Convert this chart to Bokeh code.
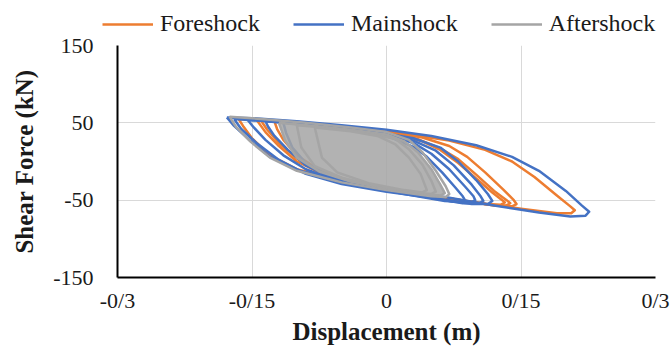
from bokeh.plotting import figure
from bokeh.layouts import column
from bokeh.models import FixedTicker, Legend, LegendItem, PrintfTickFormatter
from bokeh.embed import file_html
from bokeh.resources import INLINE

# Axis ticks and labels
x_ticks = [-0.3, -0.15, 0.0, 0.15, 0.3]
x_tick_labels = ["-0/3", "-0/15", "0", "0/15", "0/3"]
y_ticks = [-150, -50, 50, 150]

series_names = ["Foreshock", "Mainshock", "Aftershock"]
series_colors = ["#ED7D31", "#4472C4", "#A5A5A5"]

# Foreshock hysteresis loops: displacement (m) / shear force (kN)
fore_x = [
    [-0.165, -0.13, -0.08, -0.03, 0.02, 0.07, 0.11, 0.14, 0.165, 0.19, 0.205, 0.21, 0.206, 0.19, 0.15, 0.10, 0.05, 0.0, -0.05, -0.10, -0.13, -0.15, -0.16, -0.165],
    [-0.145, -0.10, -0.05, 0.0, 0.04, 0.07, 0.09, 0.11, 0.13, 0.142, 0.145, 0.14, 0.12, 0.07, 0.02, -0.03, -0.07, -0.10, -0.12, -0.135, -0.145],
    [-0.14, -0.09, -0.04, 0.0, 0.035, 0.06, 0.08, 0.10, 0.12, 0.134, 0.138, 0.133, 0.115, 0.065, 0.015, -0.035, -0.075, -0.10, -0.12, -0.133, -0.14],
    [-0.125, -0.08, -0.03, 0.01, 0.04, 0.06, 0.08, 0.10, 0.118, 0.128, 0.132, 0.127, 0.11, 0.06, 0.01, -0.04, -0.075, -0.10, -0.115, -0.122, -0.125],
]
fore_y = [
    [55, 53, 48, 43, 36, 27, 15, 0, -20, -44, -58, -63, -67, -67, -61, -53, -44, -35, -25, -10, 8, 30, 46, 55],
    [54, 50, 45, 39, 31, 20, 6, -14, -36, -50, -55, -58, -57, -48, -39, -29, -17, 0, 20, 38, 54],
    [53, 49, 44, 38, 29, 17, 3, -17, -38, -50, -54, -57, -56, -47, -38, -27, -14, 4, 24, 41, 53],
    [52, 48, 42, 35, 26, 15, -2, -22, -40, -49, -53, -56, -55, -46, -36, -25, -11, 8, 28, 42, 52],
]

# Mainshock hysteresis loops
main_x = [
    [-0.178, -0.15, -0.10, -0.05, 0.0, 0.05, 0.10, 0.14, 0.17, 0.20, 0.218, 0.226, 0.222, 0.205, 0.17, 0.12, 0.07, 0.02, -0.04, -0.097, -0.13, -0.153, -0.17, -0.178],
    [-0.17, -0.13, -0.08, -0.02, 0.03, 0.06, 0.08, 0.10, 0.113, 0.118, 0.113, 0.095, 0.05, 0.0, -0.05, -0.09, -0.12, -0.145, -0.162, -0.17],
    [-0.155, -0.11, -0.06, -0.01, 0.03, 0.055, 0.075, 0.095, 0.105, 0.108, 0.103, 0.085, 0.04, -0.01, -0.055, -0.09, -0.115, -0.135, -0.148, -0.155],
    [-0.135, -0.09, -0.04, 0.0, 0.03, 0.05, 0.07, 0.088, 0.097, 0.099, 0.094, 0.075, 0.03, -0.02, -0.06, -0.09, -0.11, -0.125, -0.132, -0.135],
    [-0.115, -0.07, -0.03, 0.005, 0.03, 0.045, 0.062, 0.077, 0.085, 0.087, 0.082, 0.065, 0.02, -0.03, -0.065, -0.09, -0.105, -0.112, -0.115],
]
main_y = [
    [57, 56, 52, 47, 41, 33, 21, 6, -12, -38, -57, -65, -70, -71, -66, -57, -47, -38, -28, -12, 6, 28, 46, 57],
    [55, 52, 47, 40, 30, 18, 0, -24, -42, -51, -55, -55, -47, -39, -29, -16, 2, 24, 42, 55],
    [54, 50, 45, 38, 27, 14, -5, -30, -45, -51, -54, -54, -45, -36, -25, -10, 8, 28, 44, 54],
    [52, 48, 42, 35, 24, 10, -10, -33, -45, -50, -53, -52, -43, -33, -21, -5, 15, 33, 45, 52],
    [50, 45, 39, 31, 19, 6, -14, -34, -45, -49, -52, -51, -42, -31, -18, -2, 18, 37, 50],
]

# Aftershock hysteresis loops
after_x = [
    [-0.175, -0.14, -0.09, -0.04, 0.0, 0.025, 0.04, 0.055, 0.066, 0.07, 0.066, 0.05, 0.0, -0.05, -0.10, -0.13, -0.152, -0.168, -0.175],
    [-0.12, -0.08, -0.04, 0.0, 0.02, 0.035, 0.05, 0.06, 0.065, 0.06, 0.04, 0.0, -0.04, -0.075, -0.10, -0.113, -0.12],
    [-0.10, -0.06, -0.02, 0.01, 0.025, 0.04, 0.05, 0.055, 0.05, 0.03, -0.01, -0.05, -0.08, -0.095, -0.10],
    [-0.08, -0.04, -0.01, 0.01, 0.025, 0.038, 0.045, 0.04, 0.02, -0.02, -0.055, -0.072, -0.08],
]
after_y = [
    [58, 55, 50, 44, 38, 28, 12, -12, -32, -42, -46, -45, -37, -27, -12, 5, 26, 45, 58],
    [50, 46, 41, 35, 26, 12, -10, -30, -41, -44, -42, -35, -26, -13, 5, 27, 50],
    [47, 43, 37, 29, 16, -4, -25, -39, -42, -40, -32, -21, -6, 18, 47],
    [44, 39, 33, 22, 5, -16, -37, -40, -37, -28, -14, 5, 44],
]

series_x = [fore_x, main_x, after_x]
series_y = [fore_y, main_y, after_y]

SERIF = "Liberation Serif"
TEXT = "#1a1a1a"
LW = 2.5

# ---- main chart ----
p = figure(
    width=672, height=312,
    x_range=(-0.3, 0.3), y_range=(-150, 150),
    output_backend="svg", toolbar_location=None,
    min_border_left=117, min_border_right=17,
    min_border_top=8, min_border_bottom=72,
)
p.frame_align = False
p.outline_line_color = None
p.background_fill_color = "white"
p.border_fill_color = "white"

p.xgrid.ticker = FixedTicker(ticks=x_ticks)
p.ygrid.ticker = FixedTicker(ticks=y_ticks)
for g in (p.xgrid, p.ygrid):
    g.grid_line_color = "#D9D9D9"
    g.grid_line_width = 1

p.xaxis.ticker = FixedTicker(ticks=x_ticks)
p.xaxis.major_label_overrides = dict(zip(x_ticks, x_tick_labels))
p.yaxis.ticker = FixedTicker(ticks=y_ticks)
p.yaxis.formatter = PrintfTickFormatter(format="%d")
for ax in (p.xaxis, p.yaxis):
    ax.axis_line_color = "black"
    ax.axis_line_width = 2
    ax.major_tick_line_color = None
    ax.minor_tick_line_color = None
    ax.major_label_text_font = SERIF
    ax.major_label_text_font_size = "22px"
    ax.major_label_text_color = TEXT
    ax.axis_label_text_font = SERIF
    ax.axis_label_text_font_size = "25px"
    ax.axis_label_text_font_style = "bold"
    ax.axis_label_text_color = TEXT
p.xaxis.axis_label = "Displacement (m)"
p.yaxis.axis_label = "Shear Force (kN)"
p.xaxis.major_label_standoff = 4
p.xaxis.axis_label_standoff = 2
p.yaxis.major_label_standoff = 18
p.yaxis.axis_label_standoff = 12

p.multi_line(fore_x, fore_y, line_color=series_colors[0], line_width=LW, line_join="round")
p.multi_line(main_x, main_y, line_color=series_colors[1], line_width=LW, line_join="round")
p.patches(after_x[1:2], after_y[1:2], fill_color=series_colors[2], fill_alpha=0.85, line_color=None)
p.multi_line(after_x, after_y, line_color=series_colors[2], line_width=LW, line_join="round")

# ---- legend strip above the chart (its ranges keep the loops out of view) ----
leg = figure(
    width=672, height=37,
    x_range=(0, 1), y_range=(1000, 1001),
    x_axis_type=None, y_axis_type=None,
    output_backend="svg", toolbar_location=None,
    min_border=0,
)
leg.frame_align = False
leg.outline_line_color = None
leg.grid.visible = False
leg_renderers = [
    leg.multi_line(xs, ys, line_color=c, line_width=LW)
    for xs, ys, c in zip(series_x, series_y, series_colors)
]
legend = Legend(
    items=[LegendItem(label=n, renderers=[r]) for n, r in zip(series_names, leg_renderers)],
    orientation="horizontal",
    location=(102, 0),
    glyph_width=51, glyph_height=20,
    label_standoff=7, spacing=33,
    padding=0, margin=0,
    border_line_color=None, background_fill_alpha=0,
    label_text_font=SERIF, label_text_font_size="24px", label_text_color=TEXT,
)
leg.add_layout(legend, "center")

layout = column(leg, p, spacing=0)
open("out.html", "w").write(file_html(layout, INLINE))
